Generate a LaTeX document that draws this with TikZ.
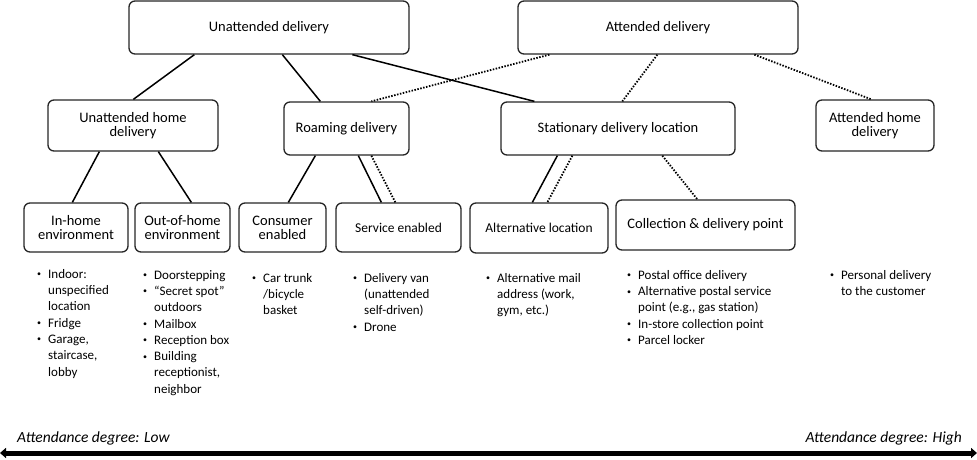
\documentclass[tikz,border=0pt]{standalone}
\usepackage{fontspec}
\setmainfont{Carlito}
\usetikzlibrary{arrows.meta}

% bullet list helpers
\newlength{\bulw}
\setlength{\bulw}{11pt}
\newcommand{\bitem}{\makebox[\bulw][l]{\raisebox{1.5pt}{\fontsize{8}{8}\selectfont •}}}
\newcommand{\bcont}{\hspace*{\bulw}}

\begin{document}
\begin{tikzpicture}[x=1pt,y=-1pt,
  box/.style={draw=black!85, line width=1.3pt, rounded corners=6pt, fill=white,
    align=center, inner sep=0pt, font=\fontsize{14.5}{14}\selectfont},
  sbox/.style={box, font=\fontsize{13.5}{13.5}\selectfont},
  link/.style={line width=1.5pt, black},
  dlink/.style={line width=1.8pt, black, dash pattern=on 1.5pt off 1.5pt},
  blist/.style={anchor=north west, inner sep=0pt, align=left,
    font=\fontsize{13}{16.3}\selectfont},
  scale label/.style={font=\fontsize{15.5}{15.5}\selectfont\itshape, inner sep=0pt}
]
\useasboundingbox (0,0) rectangle (977,459);

% top level
\node[box, minimum width=280pt, minimum height=53pt] (ud) at (269,27.5) {Unattended delivery};
\node[box, minimum width=280pt, minimum height=53pt] (ad) at (658,27.5) {Attended delivery};

% second level
\node[box, minimum width=170pt, minimum height=51pt] (uhd) at (133,125.5) {Unattended home\\delivery};
\node[box, minimum width=125pt, minimum height=53pt] (rd) at (346.5,128.5) {Roaming delivery};
\node[box, minimum width=234pt, minimum height=53pt] (sdl) at (618,128.5) {Stationary delivery location};
\node[box, minimum width=118pt, minimum height=51pt] (ahd) at (875,125.5) {Attended home\\delivery};

% third level
\node[box, minimum width=104pt, minimum height=49pt] (ih) at (76,227.5) {In-home\\environment};
\node[box, minimum width=95pt, minimum height=49pt] (oh) at (182.5,227.5) {Out-of-home\\environment};
\node[box, minimum width=87pt, minimum height=49pt] (ce) at (282.5,227.5) {Consumer\\enabled};
\node[sbox, minimum width=125pt, minimum height=49pt] (se) at (398.5,227.5) {Service enabled};
\node[sbox, minimum width=138pt, minimum height=50pt] (al) at (539,228) {Alternative location};
\node[box, minimum width=179pt, minimum height=50pt] (cdp) at (705.5,225) {Collection \& delivery point};

% connectors: solid = unattended, dotted = attended
\draw[link] ([xshift=66pt]ud.south west) -- ([xshift=86pt]uhd.north west);
\draw[link] ([xshift=154pt]ud.south west) -- ([xshift=37pt]rd.north west);
\draw[link] ([xshift=224pt]ud.south west) -- ([xshift=34pt]sdl.north west);
\draw[dlink] ([xshift=32pt]ad.south west) -- ([xshift=88pt]rd.north west);
\draw[dlink] ([xshift=140pt]ad.south west) -- ([xshift=122pt]sdl.north west);
\draw[dlink] ([xshift=237pt]ad.south west) -- ([xshift=56pt]ahd.north west);

\draw[link] ([xshift=52pt]uhd.south west) -- ([xshift=49pt]ih.north west);
\draw[link] ([xshift=111pt]uhd.south west) -- ([xshift=57pt]oh.north west);
\draw[link] ([xshift=32pt]rd.south west) -- ([xshift=50pt]ce.north west);
\draw[link] ([xshift=75pt]rd.south west) -- ([xshift=46pt]se.north west);
\draw[dlink] ([xshift=88pt]rd.south west) -- ([xshift=60pt]se.north west);
\draw[link] ([xshift=57pt]sdl.south west) -- ([xshift=63pt]al.north west);
\draw[dlink] ([xshift=72pt]sdl.south west) -- ([xshift=78pt]al.north west);
\draw[dlink] ([xshift=162pt]sdl.south west) -- ([xshift=82pt]cdp.north west);

% example lists
\node[blist] (lih) at (37,269) {\bitem Indoor:\\\bcont unspecified\\\bcont location\\\bitem Fridge\\\bitem Garage,\\\bcont staircase,\\\bcont lobby};
\node[blist] (loh) at (143,270) {\bitem Doorstepping\\\bitem “Secret spot”\\\bcont outdoors\\\bitem Mailbox\\\bitem Reception box\\\bitem Building\\\bcont receptionist,\\\bcont neighbor};
\node[blist] (lce) at (252,273) {\bitem Car trunk\\\bcont /bicycle\\\bcont basket};
\node[blist] (lse) at (353,273) {\bitem Delivery van\\\bcont (unattended\\\bcont self-driven)\\\bitem Drone};
\node[blist] (lal) at (486,273) {\bitem Alternative mail\\\bcont address (work,\\\bcont gym, etc.)};
\node[blist] (lcdp) at (627,270) {\bitem Postal office delivery\\\bitem Alternative postal service\\\bcont point (e.g., gas station)\\\bitem In-store collection point\\\bitem Parcel locker};
\node[blist] (lahd) at (830,270) {\bitem Personal delivery\\\bcont to the customer};

% attendance scale
\coordinate (lowend) at (0,453);
\coordinate (highend) at (977,453);
\draw[line width=5pt, {Triangle[width=10pt,length=6pt]}-{Triangle[width=10pt,length=6pt]}] (lowend) -- (highend);
\node[scale label, anchor=west] (lowlab) at (17,438) {Attendance degree: Low};
\node[scale label, anchor=east] (highlab) at (962,438) {Attendance degree: High};
\end{tikzpicture}
\end{document}
